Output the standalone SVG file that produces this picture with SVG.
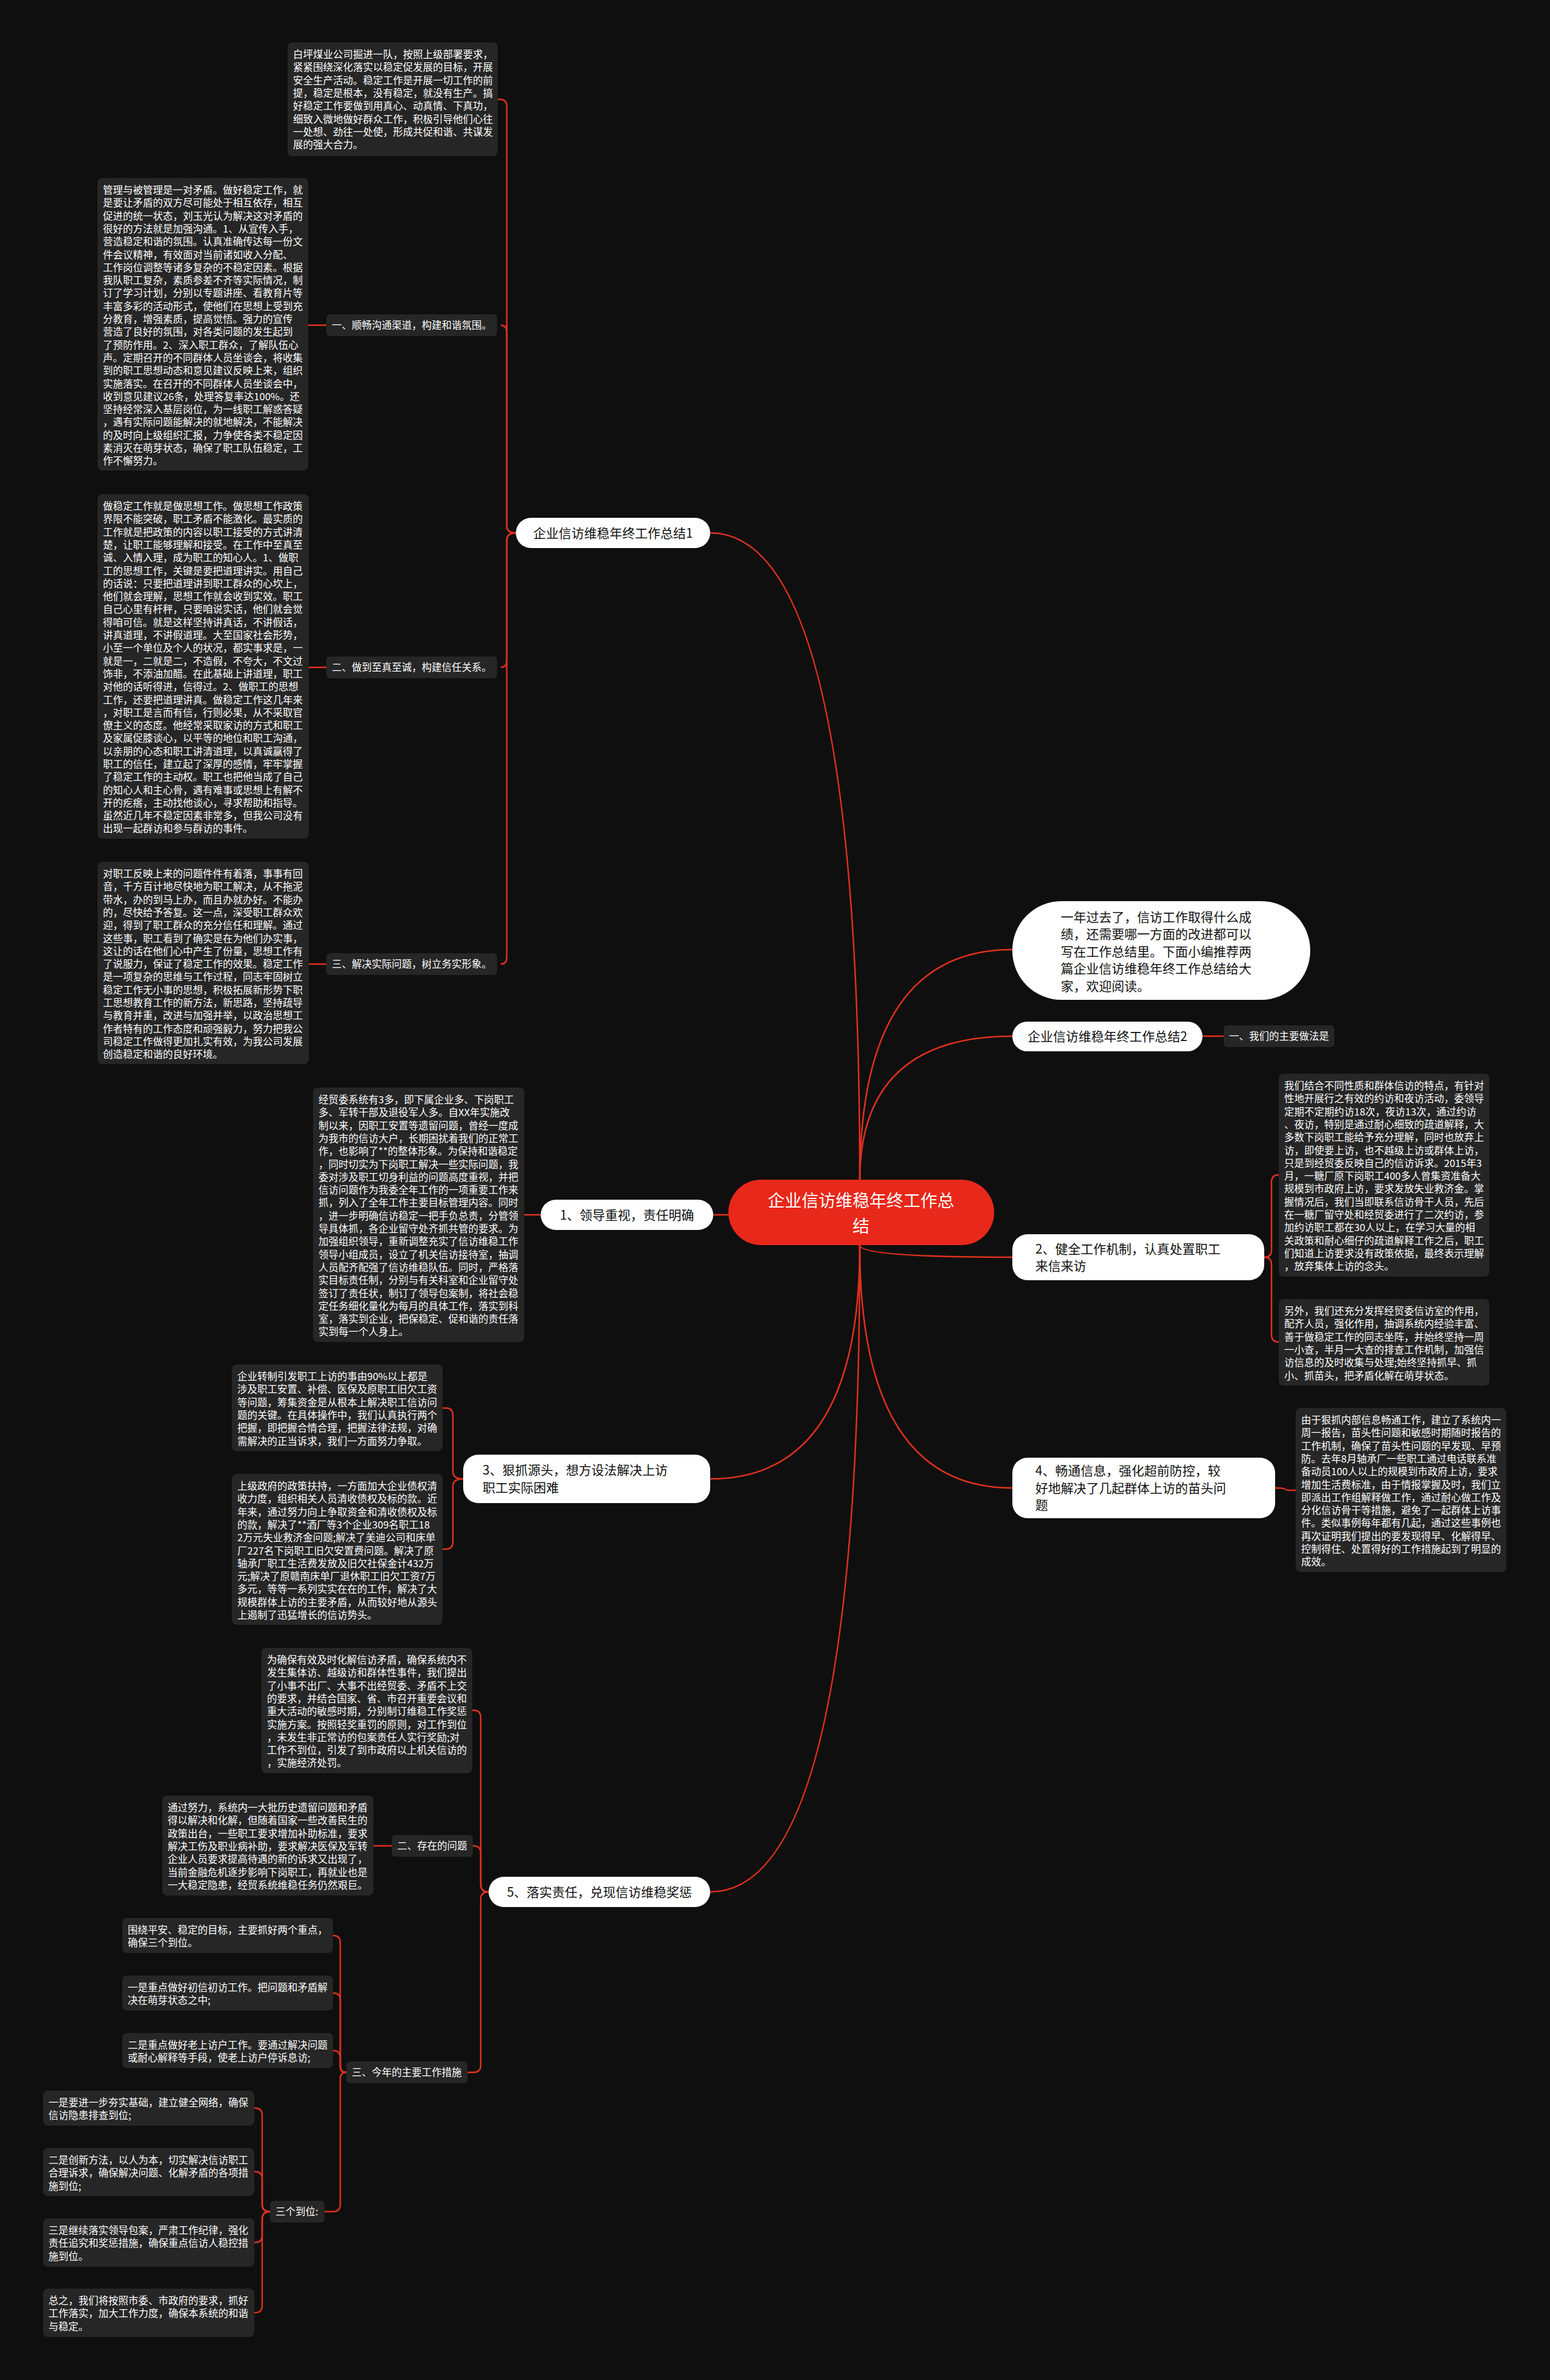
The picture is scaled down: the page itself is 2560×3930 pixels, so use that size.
<svg xmlns="http://www.w3.org/2000/svg" width="2560" height="3930" viewBox="0 0 2560 3930">
<style>
.blk{fill:#262626}
.bt{fill:#ffffff;font-family:"Noto Sans CJK SC","Noto Sans",sans-serif;font-size:16.5px}
.wn{fill:#ffffff}
.wt{fill:#111111;font-family:"Noto Sans CJK SC","Noto Sans",sans-serif;font-size:21px}
.ln{fill:none;stroke:#e0311f;stroke-width:2.5}
</style>
<rect x="0" y="0" width="2560" height="3930" fill="#0f0f0f"/>
<g id="connectors">
<path class="ln" d="M1420,1950 Q1420,880 1173,880"/>
<path class="ln" d="M1420,1950 Q1420,1568 1672,1568"/>
<path class="ln" d="M1420,1950 Q1420,1711 1672,1711"/>
<path class="ln" d="M1203,2006 H1178"/>
<path class="ln" d="M1420,2056 Q1420,2076 1672,2076"/>
<path class="ln" d="M1420,2056 Q1420,2457 1672,2457"/>
<path class="ln" d="M1420,2056 Q1420,2442 1173,2442"/>
<path class="ln" d="M1420,2056 Q1420,3124 1173,3124"/>
<path class="ln" d="M1986,1711 H2021"/>
<path class="ln" d="M852,880 Q837,880 837,868 V176 Q837,164 825,164 H822"/>
<path class="ln" d="M852,880 Q837,880 837,868 V549 Q837,537 827,537"/>
<path class="ln" d="M852,880 Q837,880 837,892 V1090 Q837,1102 827,1102"/>
<path class="ln" d="M852,880 Q837,880 837,892 V1580 Q837,1592 827,1592"/>
<path class="ln" d="M539,537 H509"/>
<path class="ln" d="M539,1102 H510"/>
<path class="ln" d="M539,1592 H510"/>
<path class="ln" d="M893,2006 H866"/>
<path class="ln" d="M765,2442 Q748,2442 748,2430 V2337 Q748,2325 736,2325 H731"/>
<path class="ln" d="M765,2442 Q748,2442 748,2454 V2546 Q748,2558 736,2558 H731"/>
<path class="ln" d="M807,3124 Q794,3124 794,3112 V2836 Q794,2824 782,2824 H780"/>
<path class="ln" d="M807,3124 Q794,3124 794,3112 V3060 Q794,3048 782,3048 H781"/>
<path class="ln" d="M807,3124 Q794,3124 794,3136 V3410 Q794,3422 782,3422 H772"/>
<path class="ln" d="M647,3048 H617"/>
<path class="ln" d="M572,3422 Q562,3422 562,3412 V3208 Q562,3196 550,3196"/>
<path class="ln" d="M572,3422 Q562,3422 562,3412 V3303 Q562,3291 550,3291"/>
<path class="ln" d="M572,3422 Q562,3422 562,3412 V3398 Q562,3386 550,3386"/>
<path class="ln" d="M572,3422 Q562,3422 562,3432 V3640 Q562,3652 550,3652 H536"/>
<path class="ln" d="M446,3652 Q433,3652 433,3640 V3493 Q433,3481 421,3481 H420"/>
<path class="ln" d="M446,3652 Q433,3652 433,3640 V3598 Q433,3586 421,3586 H420"/>
<path class="ln" d="M446,3652 Q433,3652 433,3664 V3691 Q433,3703 421,3703 H420"/>
<path class="ln" d="M446,3652 Q433,3652 433,3664 V3807 Q433,3819 421,3819 H420"/>
<path class="ln" d="M2088,2076 Q2100,2076 2100,2064 V1952 Q2100,1940 2112,1940"/>
<path class="ln" d="M2088,2076 Q2100,2076 2100,2088 V2204 Q2100,2216 2112,2216"/>
<path class="ln" d="M2106,2457 Q2123,2457 2123,2460 Q2123,2461 2140,2461"/>
</g>
<g id="center">
<rect x="1203" y="1948" width="439" height="108" rx="54" fill="#e8281a"/>
<text x="1422" y="1993" text-anchor="middle" fill="#ffffff" font-family="Noto Sans CJK SC, sans-serif" font-size="28">企业信访维稳年终工作总</text>
<text x="1422" y="2035" text-anchor="middle" fill="#ffffff" font-family="Noto Sans CJK SC, sans-serif" font-size="28">结</text>
</g>
<g id="intro">
<rect class="wn" x="1672" y="1488" width="492" height="163" rx="81"/>
<text class="wt"><tspan x="1752" y="1521.5">一年过去了，信访工作取得什么成</tspan><tspan x="1752" dy="28.5">绩，还需要哪一方面的改进都可以</tspan><tspan x="1752" dy="28.5">写在工作总结里。下面小编推荐两</tspan><tspan x="1752" dy="28.5">篇企业信访维稳年终工作总结给大</tspan><tspan x="1752" dy="28.5">家，欢迎阅读。</tspan></text>
</g>
<g id="summary2">
<rect class="wn" x="1672" y="1687" width="314" height="49" rx="24.5"/>
<text class="wt" x="1829" y="1719" text-anchor="middle">企业信访维稳年终工作总结2</text>
</g>
<g id="s2-label">
<rect class="blk" x="2021" y="1693" width="183" height="36" rx="6"/>
<text class="bt" x="2030" y="1717">一、我们的主要做法是</text>
</g>
<g id="summary1">
<rect class="wn" x="852" y="855" width="321" height="50" rx="25"/>
<text class="wt" x="1012.5" y="887.5" text-anchor="middle">企业信访维稳年终工作总结1</text>
</g>
<g id="s1-intro">
<rect class="blk" x="475" y="70" width="347" height="188" rx="8"/>
<text class="bt"><tspan x="484" y="96">白坪煤业公司掘进一队，按照上级部署要求，</tspan><tspan x="484" dy="21.3">紧紧围绕深化落实以稳定促发展的目标，开展</tspan><tspan x="484" dy="21.3">安全生产活动。稳定工作是开展一切工作的前</tspan><tspan x="484" dy="21.3">提，稳定是根本，没有稳定，就没有生产。搞</tspan><tspan x="484" dy="21.3">好稳定工作要做到用真心、动真情、下真功，</tspan><tspan x="484" dy="21.3">细致入微地做好群众工作，积极引导他们心往</tspan><tspan x="484" dy="21.3">一处想、劲往一处使，形成共促和谐、共谋发</tspan><tspan x="484" dy="21.3">展的强大合力。</tspan></text>
</g>
<g id="s1-l1">
<rect class="blk" x="539" y="519" width="282" height="36" rx="6"/>
<text class="bt" x="548" y="543">一、顺畅沟通渠道，构建和谐氛围。</text>
</g>
<g id="s1-l1-text">
<rect class="blk" x="161" y="294" width="348" height="483" rx="8"/>
<text class="bt"><tspan x="170" y="320">管理与被管理是一对矛盾。做好稳定工作，就</tspan><tspan x="170" dy="21.3">是要让矛盾的双方尽可能处于相互依存，相互</tspan><tspan x="170" dy="21.3">促进的统一状态，刘玉光认为解决这对矛盾的</tspan><tspan x="170" dy="21.3">很好的方法就是加强沟通。1、从宣传入手，</tspan><tspan x="170" dy="21.3">营造稳定和谐的氛围。认真准确传达每一份文</tspan><tspan x="170" dy="21.3">件会议精神，有效面对当前诸如收入分配、</tspan><tspan x="170" dy="21.3">工作岗位调整等诸多复杂的不稳定因素。根据</tspan><tspan x="170" dy="21.3">我队职工复杂，素质参差不齐等实际情况，制</tspan><tspan x="170" dy="21.3">订了学习计划，分别以专题讲座、看教育片等</tspan><tspan x="170" dy="21.3">丰富多彩的活动形式，使他们在思想上受到充</tspan><tspan x="170" dy="21.3">分教育，增强素质，提高觉悟。强力的宣传</tspan><tspan x="170" dy="21.3">营造了良好的氛围，对各类问题的发生起到</tspan><tspan x="170" dy="21.3">了预防作用。2、深入职工群众，了解队伍心</tspan><tspan x="170" dy="21.3">声。定期召开的不同群体人员坐谈会，将收集</tspan><tspan x="170" dy="21.3">到的职工思想动态和意见建议反映上来，组织</tspan><tspan x="170" dy="21.3">实施落实。在召开的不同群体人员坐谈会中，</tspan><tspan x="170" dy="21.3">收到意见建议26条，处理答复率达100%。还</tspan><tspan x="170" dy="21.3">坚持经常深入基层岗位，为一线职工解惑答疑</tspan><tspan x="170" dy="21.3">，遇有实际问题能解决的就地解决，不能解决</tspan><tspan x="170" dy="21.3">的及时向上级组织汇报，力争使各类不稳定因</tspan><tspan x="170" dy="21.3">素消灭在萌芽状态，确保了职工队伍稳定，工</tspan><tspan x="170" dy="21.3">作不懈努力。</tspan></text>
</g>
<g id="s1-l2">
<rect class="blk" x="539" y="1084" width="282" height="36" rx="6"/>
<text class="bt" x="548" y="1108">二、做到至真至诚，构建信任关系。</text>
</g>
<g id="s1-l2-text">
<rect class="blk" x="161" y="816" width="349" height="569" rx="8"/>
<text class="bt"><tspan x="170" y="842">做稳定工作就是做思想工作。做思想工作政策</tspan><tspan x="170" dy="21.3">界限不能突破，职工矛盾不能激化。最实质的</tspan><tspan x="170" dy="21.3">工作就是把政策的内容以职工接受的方式讲清</tspan><tspan x="170" dy="21.3">楚，让职工能够理解和接受。在工作中至真至</tspan><tspan x="170" dy="21.3">诚、入情入理，成为职工的知心人。1、做职</tspan><tspan x="170" dy="21.3">工的思想工作，关键是要把道理讲实。用自己</tspan><tspan x="170" dy="21.3">的话说：只要把道理讲到职工群众的心坎上，</tspan><tspan x="170" dy="21.3">他们就会理解，思想工作就会收到实效。职工</tspan><tspan x="170" dy="21.3">自己心里有杆秤，只要咱说实话，他们就会觉</tspan><tspan x="170" dy="21.3">得咱可信。就是这样坚持讲真话，不讲假话，</tspan><tspan x="170" dy="21.3">讲真道理，不讲假道理。大至国家社会形势，</tspan><tspan x="170" dy="21.3">小至一个单位及个人的状况，都实事求是，一</tspan><tspan x="170" dy="21.3">就是一，二就是二，不造假，不夸大，不文过</tspan><tspan x="170" dy="21.3">饰非，不添油加醋。在此基础上讲道理，职工</tspan><tspan x="170" dy="21.3">对他的话听得进，信得过。2、做职工的思想</tspan><tspan x="170" dy="21.3">工作，还要把道理讲真。做稳定工作这几年来</tspan><tspan x="170" dy="21.3">，对职工是言而有信，行则必果，从不采取官</tspan><tspan x="170" dy="21.3">僚主义的态度。他经常采取家访的方式和职工</tspan><tspan x="170" dy="21.3">及家属促膝谈心，以平等的地位和职工沟通，</tspan><tspan x="170" dy="21.3">以亲朋的心态和职工讲清道理，以真诚赢得了</tspan><tspan x="170" dy="21.3">职工的信任，建立起了深厚的感情，牢牢掌握</tspan><tspan x="170" dy="21.3">了稳定工作的主动权。职工也把他当成了自己</tspan><tspan x="170" dy="21.3">的知心人和主心骨，遇有难事或思想上有解不</tspan><tspan x="170" dy="21.3">开的疙瘩，主动找他谈心，寻求帮助和指导。</tspan><tspan x="170" dy="21.3">虽然近几年不稳定因素非常多，但我公司没有</tspan><tspan x="170" dy="21.3">出现一起群访和参与群访的事件。</tspan></text>
</g>
<g id="s1-l3">
<rect class="blk" x="539" y="1574" width="282" height="36" rx="6"/>
<text class="bt" x="548" y="1598">三、解决实际问题，树立务实形象。</text>
</g>
<g id="s1-l3-text">
<rect class="blk" x="161" y="1423" width="349" height="334" rx="8"/>
<text class="bt"><tspan x="170" y="1449">对职工反映上来的问题件件有着落，事事有回</tspan><tspan x="170" dy="21.3">音，千方百计地尽快地为职工解决，从不拖泥</tspan><tspan x="170" dy="21.3">带水，办的到马上办，而且办就办好。不能办</tspan><tspan x="170" dy="21.3">的，尽快给予答复。这一点，深受职工群众欢</tspan><tspan x="170" dy="21.3">迎，得到了职工群众的充分信任和理解。通过</tspan><tspan x="170" dy="21.3">这些事，职工看到了确实是在为他们办实事，</tspan><tspan x="170" dy="21.3">这让的话在他们心中产生了份量，思想工作有</tspan><tspan x="170" dy="21.3">了说服力，保证了稳定工作的效果。稳定工作</tspan><tspan x="170" dy="21.3">是一项复杂的思维与工作过程，同志牢固树立</tspan><tspan x="170" dy="21.3">稳定工作无小事的思想，积极拓展新形势下职</tspan><tspan x="170" dy="21.3">工思想教育工作的新方法，新思路，坚持疏导</tspan><tspan x="170" dy="21.3">与教育并重，改进与加强并举，以政治思想工</tspan><tspan x="170" dy="21.3">作者特有的工作态度和顽强毅力，努力把我公</tspan><tspan x="170" dy="21.3">司稳定工作做得更加扎实有效，为我公司发展</tspan><tspan x="170" dy="21.3">创造稳定和谐的良好环境。</tspan></text>
</g>
<g id="n1">
<rect class="wn" x="893" y="1981" width="285" height="50" rx="25"/>
<text class="wt" x="1035.5" y="2013.5" text-anchor="middle">1、领导重视，责任明确</text>
</g>
<g id="n1-text">
<rect class="blk" x="517" y="1796" width="349" height="420" rx="8"/>
<text class="bt"><tspan x="526" y="1822">经贸委系统有3多，即下属企业多、下岗职工</tspan><tspan x="526" dy="21.3">多、军转干部及退役军人多。自XX年实施改</tspan><tspan x="526" dy="21.3">制以来，因职工安置等遗留问题，曾经一度成</tspan><tspan x="526" dy="21.3">为我市的信访大户，长期困扰着我们的正常工</tspan><tspan x="526" dy="21.3">作，也影响了**的整体形象。为保持和谐稳定</tspan><tspan x="526" dy="21.3">，同时切实为下岗职工解决一些实际问题，我</tspan><tspan x="526" dy="21.3">委对涉及职工切身利益的问题高度重视，并把</tspan><tspan x="526" dy="21.3">信访问题作为我委全年工作的一项重要工作来</tspan><tspan x="526" dy="21.3">抓，列入了全年工作主要目标管理内容。同时</tspan><tspan x="526" dy="21.3">，进一步明确信访稳定一把手负总责，分管领</tspan><tspan x="526" dy="21.3">导具体抓，各企业留守处齐抓共管的要求。为</tspan><tspan x="526" dy="21.3">加强组织领导，重新调整充实了信访维稳工作</tspan><tspan x="526" dy="21.3">领导小组成员，设立了机关信访接待室，抽调</tspan><tspan x="526" dy="21.3">人员配齐配强了信访维稳队伍。同时，严格落</tspan><tspan x="526" dy="21.3">实目标责任制，分别与有关科室和企业留守处</tspan><tspan x="526" dy="21.3">签订了责任状，制订了领导包案制，将社会稳</tspan><tspan x="526" dy="21.3">定任务细化量化为每月的具体工作，落实到科</tspan><tspan x="526" dy="21.3">室，落实到企业，把保稳定、促和谐的责任落</tspan><tspan x="526" dy="21.3">实到每一个人身上。</tspan></text>
</g>
<g id="n3">
<rect class="wn" x="765" y="2402" width="408" height="80" rx="25"/>
<text class="wt"><tspan x="797" y="2435">3、狠抓源头，想方设法解决上访</tspan><tspan x="797" dy="28.5">职工实际困难</tspan></text>
</g>
<g id="n3-text1">
<rect class="blk" x="383" y="2253" width="348" height="143" rx="8"/>
<text class="bt"><tspan x="392" y="2279">企业转制引发职工上访的事由90%以上都是</tspan><tspan x="392" dy="21.3">涉及职工安置、补偿、医保及原职工旧欠工资</tspan><tspan x="392" dy="21.3">等问题，筹集资金是从根本上解决职工信访问</tspan><tspan x="392" dy="21.3">题的关键。在具体操作中，我们认真执行两个</tspan><tspan x="392" dy="21.3">把握，即把握合情合理，把握法律法规，对确</tspan><tspan x="392" dy="21.3">需解决的正当诉求，我们一方面努力争取。</tspan></text>
</g>
<g id="n3-text2">
<rect class="blk" x="383" y="2434" width="348" height="249" rx="8"/>
<text class="bt"><tspan x="392" y="2460">上级政府的政策扶持，一方面加大企业债权清</tspan><tspan x="392" dy="21.3">收力度，组织相关人员清收债权及标的款。近</tspan><tspan x="392" dy="21.3">年来，通过努力向上争取资金和清收债权及标</tspan><tspan x="392" dy="21.3">的款，解决了**酒厂等3个企业309名职工18</tspan><tspan x="392" dy="21.3">2万元失业救济金问题;解决了美迪公司和床单</tspan><tspan x="392" dy="21.3">厂227名下岗职工旧欠安置费问题。解决了原</tspan><tspan x="392" dy="21.3">轴承厂职工生活费发放及旧欠社保金计432万</tspan><tspan x="392" dy="21.3">元;解决了原赣南床单厂退休职工旧欠工资7万</tspan><tspan x="392" dy="21.3">多元，等等一系列实实在在的工作，解决了大</tspan><tspan x="392" dy="21.3">规模群体上访的主要矛盾，从而较好地从源头</tspan><tspan x="392" dy="21.3">上遏制了迅猛增长的信访势头。</tspan></text>
</g>
<g id="n5">
<rect class="wn" x="807" y="3099" width="366" height="50" rx="25"/>
<text class="wt" x="990" y="3131.5" text-anchor="middle">5、落实责任，兑现信访维稳奖惩</text>
</g>
<g id="n5-text">
<rect class="blk" x="432" y="2721" width="348" height="207" rx="8"/>
<text class="bt"><tspan x="441" y="2747">为确保有效及时化解信访矛盾，确保系统内不</tspan><tspan x="441" dy="21.3">发生集体访、越级访和群体性事件，我们提出</tspan><tspan x="441" dy="21.3">了小事不出厂、大事不出经贸委、矛盾不上交</tspan><tspan x="441" dy="21.3">的要求，并结合国家、省、市召开重要会议和</tspan><tspan x="441" dy="21.3">重大活动的敏感时期，分别制订维稳工作奖惩</tspan><tspan x="441" dy="21.3">实施方案。按照轻奖重罚的原则，对工作到位</tspan><tspan x="441" dy="21.3">，未发生非正常访的包案责任人实行奖励;对</tspan><tspan x="441" dy="21.3">工作不到位，引发了到市政府以上机关信访的</tspan><tspan x="441" dy="21.3">，实施经济处罚。</tspan></text>
</g>
<g id="n5-l2">
<rect class="blk" x="647" y="3030" width="134" height="36" rx="6"/>
<text class="bt" x="656" y="3054">二、存在的问题</text>
</g>
<g id="n5-l2-text">
<rect class="blk" x="268" y="2965" width="349" height="165" rx="8"/>
<text class="bt"><tspan x="277" y="2991">通过努力，系统内一大批历史遗留问题和矛盾</tspan><tspan x="277" dy="21.3">得以解决和化解，但随着国家一些改善民生的</tspan><tspan x="277" dy="21.3">政策出台，一些职工要求增加补助标准，要求</tspan><tspan x="277" dy="21.3">解决工伤及职业病补助，要求解决医保及军转</tspan><tspan x="277" dy="21.3">企业人员要求提高待遇的新的诉求又出现了，</tspan><tspan x="277" dy="21.3">当前金融危机逐步影响下岗职工，再就业也是</tspan><tspan x="277" dy="21.3">一大稳定隐患，经贸系统维稳任务仍然艰巨。</tspan></text>
</g>
<g id="n5-l3">
<rect class="blk" x="572" y="3404" width="200" height="36" rx="6"/>
<text class="bt" x="581" y="3428">三、今年的主要工作措施</text>
</g>
<g id="n5-l3-a">
<rect class="blk" x="202" y="3167" width="348" height="58" rx="8"/>
<text class="bt"><tspan x="211" y="3193">围绕平安、稳定的目标，主要抓好两个重点，</tspan><tspan x="211" dy="21.3">确保三个到位。</tspan></text>
</g>
<g id="n5-l3-b">
<rect class="blk" x="202" y="3262" width="348" height="58" rx="8"/>
<text class="bt"><tspan x="211" y="3288">一是重点做好初信初访工作。把问题和矛盾解</tspan><tspan x="211" dy="21.3">决在萌芽状态之中;</tspan></text>
</g>
<g id="n5-l3-c">
<rect class="blk" x="202" y="3357" width="348" height="58" rx="8"/>
<text class="bt"><tspan x="211" y="3383">二是重点做好老上访户工作。要通过解决问题</tspan><tspan x="211" dy="21.3">或耐心解释等手段，使老上访户停诉息访;</tspan></text>
</g>
<g id="n5-l3-d">
<rect class="blk" x="446" y="3634" width="90" height="36" rx="6"/>
<text class="bt" x="455" y="3658">三个到位:</text>
</g>
<g id="d1">
<rect class="blk" x="71" y="3452" width="349" height="58" rx="8"/>
<text class="bt"><tspan x="80" y="3478">一是要进一步夯实基础，建立健全网络，确保</tspan><tspan x="80" dy="21.3">信访隐患排查到位;</tspan></text>
</g>
<g id="d2">
<rect class="blk" x="71" y="3547" width="349" height="79" rx="8"/>
<text class="bt"><tspan x="80" y="3573">二是创新方法，以人为本，切实解决信访职工</tspan><tspan x="80" dy="21.3">合理诉求，确保解决问题、化解矛盾的各项措</tspan><tspan x="80" dy="21.3">施到位;</tspan></text>
</g>
<g id="d3">
<rect class="blk" x="71" y="3663" width="349" height="80" rx="8"/>
<text class="bt"><tspan x="80" y="3689">三是继续落实领导包案，严肃工作纪律，强化</tspan><tspan x="80" dy="21.3">责任追究和奖惩措施，确保重点信访人稳控措</tspan><tspan x="80" dy="21.3">施到位。</tspan></text>
</g>
<g id="d4">
<rect class="blk" x="71" y="3779" width="349" height="80" rx="8"/>
<text class="bt"><tspan x="80" y="3805">总之，我们将按照市委、市政府的要求，抓好</tspan><tspan x="80" dy="21.3">工作落实，加大工作力度，确保本系统的和谐</tspan><tspan x="80" dy="21.3">与稳定。</tspan></text>
</g>
<g id="n2">
<rect class="wn" x="1672" y="2038" width="416" height="76" rx="25"/>
<text class="wt"><tspan x="1710" y="2069.5">2、健全工作机制，认真处置职工</tspan><tspan x="1710" dy="28.5">来信来访</tspan></text>
</g>
<g id="n2-text1">
<rect class="blk" x="2112" y="1773" width="348" height="335" rx="8"/>
<text class="bt"><tspan x="2121" y="1799">我们结合不同性质和群体信访的特点，有针对</tspan><tspan x="2121" dy="21.3">性地开展行之有效的约访和夜访活动，委领导</tspan><tspan x="2121" dy="21.3">定期不定期约访18次，夜访13次，通过约访</tspan><tspan x="2121" dy="21.3">、夜访，特别是通过耐心细致的疏道解释，大</tspan><tspan x="2121" dy="21.3">多数下岗职工能给予充分理解，同时也放弃上</tspan><tspan x="2121" dy="21.3">访，即使要上访，也不越级上访或群体上访，</tspan><tspan x="2121" dy="21.3">只是到经贸委反映自己的信访诉求。2015年3</tspan><tspan x="2121" dy="21.3">月，一糖厂原下岗职工400多人曾集资准备大</tspan><tspan x="2121" dy="21.3">规模到市政府上访，要求发放失业救济金。掌</tspan><tspan x="2121" dy="21.3">握情况后，我们当即联系信访骨干人员，先后</tspan><tspan x="2121" dy="21.3">在一糖厂留守处和经贸委进行了二次约访，参</tspan><tspan x="2121" dy="21.3">加约访职工都在30人以上，在学习大量的相</tspan><tspan x="2121" dy="21.3">关政策和耐心细仔的疏道解释工作之后，职工</tspan><tspan x="2121" dy="21.3">们知道上访要求没有政策依据，最终表示理解</tspan><tspan x="2121" dy="21.3">，放弃集体上访的念头。</tspan></text>
</g>
<g id="n2-text2">
<rect class="blk" x="2112" y="2145" width="348" height="143" rx="8"/>
<text class="bt"><tspan x="2121" y="2171">另外，我们还充分发挥经贸委信访室的作用，</tspan><tspan x="2121" dy="21.3">配齐人员，强化作用，抽调系统内经验丰富、</tspan><tspan x="2121" dy="21.3">善于做稳定工作的同志坐阵，并始终坚持一周</tspan><tspan x="2121" dy="21.3">一小查，半月一大查的排查工作机制，加强信</tspan><tspan x="2121" dy="21.3">访信息的及时收集与处理;始终坚持抓早、抓</tspan><tspan x="2121" dy="21.3">小、抓苗头，把矛盾化解在萌芽状态。</tspan></text>
</g>
<g id="n4">
<rect class="wn" x="1672" y="2407" width="434" height="100" rx="25"/>
<text class="wt"><tspan x="1710" y="2436">4、畅通信息，强化超前防控，较</tspan><tspan x="1710" dy="28.5">好地解决了几起群体上访的苗头问</tspan><tspan x="1710" dy="28.5">题</tspan></text>
</g>
<g id="n4-text">
<rect class="blk" x="2140" y="2325" width="348" height="271" rx="8"/>
<text class="bt"><tspan x="2149" y="2351">由于狠抓内部信息畅通工作，建立了系统内一</tspan><tspan x="2149" dy="21.3">周一报告，苗头性问题和敏感时期随时报告的</tspan><tspan x="2149" dy="21.3">工作机制，确保了苗头性问题的早发现、早预</tspan><tspan x="2149" dy="21.3">防。去年8月轴承厂一些职工通过电话联系准</tspan><tspan x="2149" dy="21.3">备动员100人以上的规模到市政府上访，要求</tspan><tspan x="2149" dy="21.3">增加生活费标准，由于情报掌握及时，我们立</tspan><tspan x="2149" dy="21.3">即派出工作组解释做工作，通过耐心做工作及</tspan><tspan x="2149" dy="21.3">分化信访骨干等措施，避免了一起群体上访事</tspan><tspan x="2149" dy="21.3">件。类似事例每年都有几起，通过这些事例也</tspan><tspan x="2149" dy="21.3">再次证明我们提出的要发现得早、化解得早、</tspan><tspan x="2149" dy="21.3">控制得住、处置得好的工作措施起到了明显的</tspan><tspan x="2149" dy="21.3">成效。</tspan></text>
</g>
</svg>
